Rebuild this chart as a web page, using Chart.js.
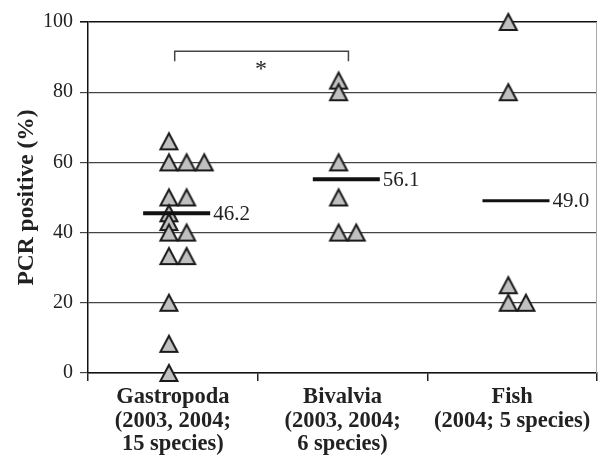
<!DOCTYPE html>
<html>
<head>
<meta charset="utf-8">
<script src="https://cdn.jsdelivr.net/npm/chart.js@4"></script>
<style>
  body { margin: 0; background: #fff; }
  #wrap { width: 607px; height: 459px; }
</style>
</head>
<body>
<div id="wrap"><canvas id="myChart"></canvas></div>
<script>
// categories shown on the x axis (one array per multi-line label)
var categories = [
  ['Gastropoda', '(2003, 2004;', '15 species)'],
  ['Bivalvia', '(2003, 2004;', '6 species)'],
  ['Fish', '(2004; 5 species)']
];

// PCR positive (%) per species
var gastropodaValues = [66, 60, 60, 60, 50, 50, 45.5, 43, 40, 40, 33.3, 33.3, 20, 8.3, 0];
var bivalviaValues = [83.3, 80, 60, 50, 40, 40];
var fishValues = [100, 80, 25, 20, 20];

// mean bars and the numbers printed beside them
var meanValues = [45.5, 55.2, 49.1];
var meanLabels = ['46.2', '56.1', '49.0'];

// y axis ticks
var yTicks = [0, 20, 40, 60, 80, 100];

// significance bracket between Gastropoda and Bivalvia
var bracketLow = 88.8;
var bracketHigh = 91.7;
var bracketText = '*';

var serif = '"Liberation Serif", "Times New Roman", serif';

// triangle marker like the spreadsheet one (centred on its box)
function makeTriangle() {
  var c = document.createElement('canvas');
  c.width = 24;
  c.height = 24;
  var g = c.getContext('2d');
  g.beginPath();
  g.moveTo(12, 4);
  g.lineTo(3.5, 20);
  g.lineTo(20.5, 20);
  g.closePath();
  g.fillStyle = '#c0c0c0';
  g.fill();
  g.lineWidth = 2;
  g.lineJoin = 'miter';
  g.strokeStyle = '#1a1a1a';
  g.stroke();
  return c;
}
var triangle = makeTriangle();

// points with equal value inside a group are put side by side
function toPoints(values, groupIndex) {
  var seen = {};
  return values.map(function (v) {
    var k = seen[v] || 0;
    seen[v] = k + 1;
    return { x: groupIndex + 0.477 + k * 0.104, y: v };
  });
}

function meanLine(i) {
  return [{ x: i + 0.325, y: meanValues[i] }, { x: i + 0.72, y: meanValues[i] }];
}

var lineWidths = [4, 4, 3];
var datasets = [];

[gastropodaValues, bivalviaValues, fishValues].forEach(function (vals, i) {
  datasets.push({
    type: 'scatter',
    data: toPoints(vals, i),
    pointStyle: triangle,
    radius: 9,
    clip: false,
    order: 2
  });
});

meanValues.forEach(function (m, i) {
  datasets.push({
    type: 'line',
    data: meanLine(i),
    borderColor: '#111',
    borderWidth: lineWidths[i],
    pointRadius: 0,
    clip: false,
    order: 1
  });
});

datasets.push({
  type: 'line',
  data: [
    { x: 0.511, y: bracketLow }, { x: 0.511, y: bracketHigh },
    { x: 1.535, y: bracketHigh }, { x: 1.535, y: bracketLow }
  ],
  borderColor: '#444',
  borderWidth: 1.5,
  pointRadius: 0,
  order: 1
});

var labelPlugin = {
  id: 'labelPlugin',
  afterDatasetsDraw: function (chart) {
    var ctx = chart.ctx;
    var xs = chart.scales.x;
    var ys = chart.scales.y;
    ctx.save();
    ctx.fillStyle = '#222';
    ctx.font = '21px ' + serif;
    ctx.textBaseline = 'middle';
    ctx.textAlign = 'left';
    meanValues.forEach(function (m, i) {
      ctx.fillText(meanLabels[i], xs.getPixelForValue(i + 0.72) + 3, ys.getPixelForValue(m) + 1);
    });
    ctx.textAlign = 'center';
    ctx.font = '24px ' + serif;
    ctx.fillText(bracketText, xs.getPixelForValue(1.02), ys.getPixelForValue(bracketLow) + 8);
    // thin grey frame line on the right
    var a = chart.chartArea;
    ctx.strokeStyle = '#aaa';
    ctx.lineWidth = 1;
    ctx.beginPath();
    ctx.moveTo(a.right - 0.5, a.top);
    ctx.lineTo(a.right - 0.5, a.bottom);
    ctx.stroke();
    ctx.restore();
  }
};

new Chart(document.getElementById('myChart'), {
  data: { datasets: datasets },
  options: {
    responsive: true,
    maintainAspectRatio: false,
    animation: false,
    layout: { padding: { top: 22, right: 1, left: 0, bottom: 0 } },
    plugins: { legend: { display: false }, tooltip: { enabled: false } },
    scales: {
      x: { type: 'linear', min: 0, max: 3, display: false },
      xc: {
        type: 'category',
        labels: categories,
        position: 'bottom',
        offset: true,
        grid: { offset: true, drawOnChartArea: false, tickLength: 8, color: '#222', lineWidth: 1.5 },
        border: { color: '#111', width: 1.5 },
        ticks: {
          font: { family: serif, size: 22.5, weight: 'bold', lineHeight: 1.03 },
          color: '#222',
          padding: 5,
          maxRotation: 0,
          autoSkip: false
        },
        afterFit: function (s) { s.height = 86; }
      },
      y: {
        min: 0,
        max: 100,
        afterBuildTicks: function (s) { s.ticks = yTicks.map(function (v) { return { value: v }; }); },
        ticks: { font: { family: serif, size: 20 }, color: '#222', padding: 7 },
        grid: {
          color: function (c) { return c.tick && c.tick.value === 100 ? '#111' : '#444'; },
          lineWidth: function (c) { return c.tick && c.tick.value === 100 ? 1.6 : 1.2; },
          tickLength: 8
        },
        border: { color: '#111', width: 1.5 },
        title: {
          display: true,
          text: 'PCR positive (%)',
          font: { family: serif, size: 23.5, weight: 'bold' },
          color: '#222',
          padding: { top: 13, bottom: 0 }
        },
        afterFit: function (s) { s.width = 88; }
      }
    }
  },
  plugins: [labelPlugin]
});
</script>
</body>
</html>
